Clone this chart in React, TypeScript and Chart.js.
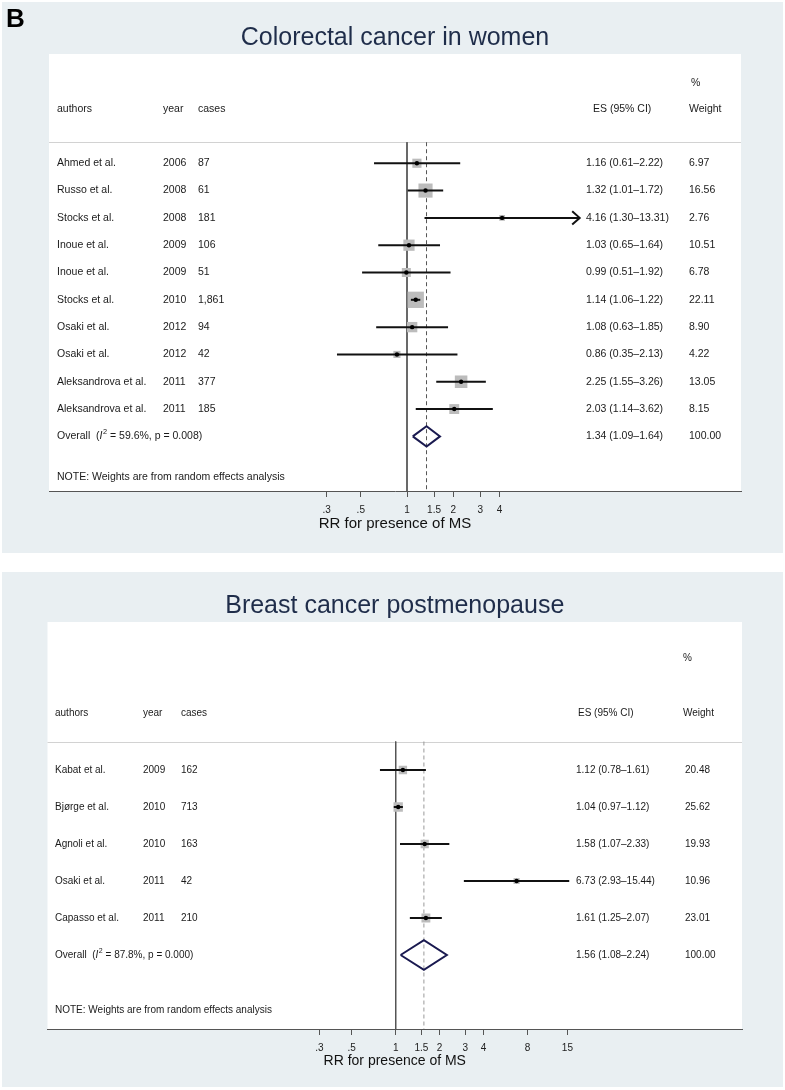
import React, { useEffect, useRef } from "react";
import { Chart, registerables } from "chart.js";
Chart.register(...registerables);

const FONT = "'Liberation Sans', Arial, Helvetica, sans-serif";
const NAVY = "#1f2d4a";

// ---------- Panel 1: Colorectal cancer in women ----------
const crcTitle = "Colorectal cancer in women";
const crcAuthors = ["Ahmed et al.", "Russo et al.", "Stocks et al.", "Inoue et al.", "Inoue et al.", "Stocks et al.", "Osaki et al.", "Osaki et al.", "Aleksandrova et al.", "Aleksandrova et al."];
const crcYears = ["2006", "2008", "2008", "2009", "2009", "2010", "2012", "2012", "2011", "2011"];
const crcCases = ["87", "61", "181", "106", "51", "1,861", "94", "42", "377", "185"];
const crcES = [1.16, 1.32, 4.16, 1.03, 0.99, 1.14, 1.08, 0.86, 2.25, 2.03];
const crcLo = [0.61, 1.01, 1.30, 0.65, 0.51, 1.06, 0.63, 0.35, 1.55, 1.14];
const crcHi = [2.22, 1.72, 13.31, 1.64, 1.92, 1.22, 1.85, 2.13, 3.26, 3.62];
const crcWeight = [6.97, 16.56, 2.76, 10.51, 6.78, 22.11, 8.90, 4.22, 13.05, 8.15];
const crcOverall = [1.34, 1.09, 1.64];
const crcI2 = "59.6%";
const crcP = "0.008";
const crcArrowRows = [2];
const crcTicks = [0.3, 0.5, 1, 1.5, 2, 3, 4];

// ---------- Panel 2: Breast cancer postmenopause ----------
const bcTitle = "Breast cancer postmenopause";
const bcAuthors = ["Kabat et al.", "Bjørge et al.", "Agnoli et al.", "Osaki et al.", "Capasso et al."];
const bcYears = ["2009", "2010", "2010", "2011", "2011"];
const bcCases = ["162", "713", "163", "42", "210"];
const bcES = [1.12, 1.04, 1.58, 6.73, 1.61];
const bcLo = [0.78, 0.97, 1.07, 2.93, 1.25];
const bcHi = [1.61, 1.12, 2.33, 15.44, 2.07];
const bcWeight = [20.48, 25.62, 19.93, 10.96, 23.01];
const bcOverall = [1.56, 1.08, 2.24];
const bcI2 = "87.8%";
const bcP = "0.000";
const bcArrowRows: number[] = [];
const bcTicks = [0.3, 0.5, 1, 1.5, 2, 3, 4, 8, 15];

const axisTitle = "RR for presence of MS";
const noteText = "NOTE: Weights are from random effects analysis";

const panel1 = {
  title: crcTitle, authors: crcAuthors, years: crcYears, cases: crcCases,
  es: crcES, lo: crcLo, hi: crcHi, w: crcWeight, overall: crcOverall,
  i2: crcI2, p: crcP, arrows: crcArrowRows, ticks: crcTicks,
};
const panel2 = {
  title: bcTitle, authors: bcAuthors, years: bcYears, cases: bcCases,
  es: bcES, lo: bcLo, hi: bcHi, w: bcWeight, overall: bcOverall,
  i2: bcI2, p: bcP, arrows: bcArrowRows, ticks: bcTicks,
};

// layout (style only)
const layout1 = {
  top: 2, width: 781, height: 551,
  padL: 47, padR: 42, axisH: 62,
  xMin: 0.00467, xMax: 149.4, yMin: -4, yMax: 12,
  sepY: -0.77, headY: -2.0, pctY: -2.93, noteY: 11.5,
  col: { a: 55, y: 161, c: 196, es: 584, w: 687, esH: 591, wH: 687, pct: 689 },
  fs: 10.5, titleSize: 25, titlePadTop: 21, titlePadBottom: 1,
  axisTitleSize: 15, axisTitlePad: 20, tickPad: 7,
  boxK: 3.47, dH: 0.37, ciW: 2, dashColor: "#555",
};
const layout2 = {
  top: 572, width: 781, height: 515,
  padL: 45.5, padR: 41, axisH: 58,
  xMin: 0.00412, xMax: 235.5, yMin: -4, yMax: 7,
  sepY: -0.77, headY: -1.54, pctY: -3.03, noteY: 6.5,
  col: { a: 53, y: 141, c: 179, es: 574, w: 683, esH: 576, wH: 681, pct: 681 },
  fs: 10, titleSize: 25, titlePadTop: 19, titlePadBottom: 1,
  axisTitleSize: 14, axisTitlePad: 17, tickPad: 7,
  boxK: 1.85, dH: 0.4, ciW: 2, dashColor: "#999",
};

const fmtTick = (v: number) => (v < 1 ? String(v).replace(/^0/, "") : String(v));
const fmtCI = (e: number, l: number, h: number) => `${e.toFixed(2)} (${l.toFixed(2)}\u2013${h.toFixed(2)})`;

function ForestPanel({ p, L }: { p: any; L: any }) {
  const ref = useRef<HTMLCanvasElement>(null);
  useEffect(() => {
    const n = p.es.length;
    const [oes, olo, ohi] = p.overall;
    const datasets: any[] = [];
    datasets.push({
      data: p.es.map((v: number, i: number) => ({ x: v, y: i })),
      pointStyle: "circle", pointRadius: 2.2, backgroundColor: "#000", borderWidth: 0, order: 0,
    });
    datasets.push({
      data: [
        { x: olo, y: n }, { x: oes, y: n - L.dH }, { x: ohi, y: n }, { x: oes, y: n + L.dH }, { x: olo, y: n },
      ],
      showLine: true, borderColor: "#1a1a50", borderWidth: 2, pointRadius: 0, fill: false, tension: 0,
      borderJoinStyle: "miter", order: 1,
    });
    p.es.forEach((_: number, i: number) => {
      datasets.push({
        data: [{ x: p.lo[i], y: i }, { x: p.hi[i], y: i }],
        showLine: true, borderColor: "#111", borderWidth: L.ciW, pointRadius: 0, order: 2,
      });
    });
    datasets.push({
      data: p.es.map((v: number, i: number) => ({ x: v, y: i })),
      pointStyle: "rect",
      pointRadius: p.w.map((w: number) => (L.boxK * Math.sqrt(w)) / Math.SQRT2),
      backgroundColor: "#bcbcbc", borderWidth: 0, order: 3,
    });
    datasets.push({
      data: [{ x: 1, y: L.sepY }, { x: 1, y: L.yMax }],
      showLine: true, borderColor: "#555", borderWidth: 1, pointRadius: 0, order: 4,
    });
    datasets.push({
      data: [{ x: oes, y: L.sepY }, { x: oes, y: L.yMax }],
      showLine: true, borderColor: L.dashColor, borderWidth: 1, borderDash: [4, 3], pointRadius: 0, order: 4,
    });

    const font = (s: number, style = "") => `${style}${s}px ${FONT}`;
    const textPlugin = {
      id: "forestText",
      beforeDraw(chart: any) {
        const { ctx, chartArea: a } = chart;
        ctx.save();
        ctx.fillStyle = "#fff";
        ctx.fillRect(a.left, a.top, a.right - a.left, a.bottom - a.top);
        const ys = chart.scales.y.getPixelForValue(L.sepY);
        ctx.strokeStyle = "#d2d2d2";
        ctx.lineWidth = 1;
        ctx.beginPath();
        ctx.moveTo(a.left, Math.round(ys) + 0.5);
        ctx.lineTo(a.right, Math.round(ys) + 0.5);
        ctx.stroke();
        ctx.restore();
      },
      afterDatasetsDraw(chart: any) {
        const { ctx } = chart;
        const yS = chart.scales.y;
        const xS = chart.scales.x;
        ctx.save();
        ctx.fillStyle = "#1a1a1a";
        ctx.textBaseline = "middle";
        ctx.textAlign = "left";
        ctx.font = font(L.fs);
        const C = L.col;
        const hy = yS.getPixelForValue(L.headY);
        ctx.fillText("%", C.pct, yS.getPixelForValue(L.pctY));
        ctx.fillText("authors", C.a, hy);
        ctx.fillText("year", C.y, hy);
        ctx.fillText("cases", C.c, hy);
        ctx.fillText("ES (95% CI)", C.esH, hy);
        ctx.fillText("Weight", C.wH, hy);
        for (let i = 0; i < n; i++) {
          const y = yS.getPixelForValue(i);
          ctx.fillText(p.authors[i], C.a, y);
          ctx.fillText(p.years[i], C.y, y);
          ctx.fillText(p.cases[i], C.c, y);
          ctx.fillText(fmtCI(p.es[i], p.lo[i], p.hi[i]), C.es, y);
          ctx.fillText(p.w[i].toFixed(2), C.w, y);
        }
        // overall row
        const oy = yS.getPixelForValue(n);
        let x = C.a;
        ctx.font = font(L.fs);
        ctx.fillText("Overall  (", x, oy);
        x += ctx.measureText("Overall  (").width;
        ctx.font = font(L.fs, "italic ");
        ctx.fillText("I", x, oy);
        x += ctx.measureText("I").width + 0.5;
        ctx.font = font(L.fs * 0.7);
        ctx.fillText("2", x, oy - 4);
        x += ctx.measureText("2").width;
        ctx.font = font(L.fs);
        ctx.fillText(` = ${p.i2}, p = ${p.p})`, x, oy);
        ctx.fillText(fmtCI(oes, olo, ohi), C.es, oy);
        ctx.fillText((100).toFixed(2), C.w, oy);
        ctx.fillText(noteText, C.a, yS.getPixelForValue(L.noteY));
        // arrow heads for clipped CIs
        ctx.strokeStyle = "#111";
        ctx.lineWidth = 2;
        p.arrows.forEach((r: number) => {
          const px = xS.getPixelForValue(p.hi[r]);
          const py = yS.getPixelForValue(r);
          ctx.beginPath();
          ctx.moveTo(px - 7.5, py - 6.7);
          ctx.lineTo(px, py);
          ctx.lineTo(px - 7.5, py + 6.7);
          ctx.stroke();
        });
        ctx.restore();
      },
    };

    const chart = new Chart(ref.current!, {
      type: "scatter",
      data: { datasets },
      options: {
        animation: false,
        responsive: false,
        maintainAspectRatio: false,
        devicePixelRatio: 1,
        events: [],
        layout: { padding: { left: L.padL, right: L.padR, top: 0, bottom: 0 } },
        plugins: {
          legend: { display: false },
          tooltip: { enabled: false },
          title: {
            display: true, text: p.title, color: NAVY,
            font: { family: FONT, size: L.titleSize, weight: "normal" },
            padding: { top: L.titlePadTop, bottom: L.titlePadBottom },
          },
        },
        scales: {
          x: {
            type: "logarithmic", position: "bottom", min: L.xMin, max: L.xMax,
            afterBuildTicks: (s: any) => { s.ticks = p.ticks.map((v: number) => ({ value: v })); },
            afterFit: (s: any) => { s.height = L.axisH; },
            border: { display: true, color: "#555", width: 1 },
            grid: { drawOnChartArea: false, drawTicks: true, tickLength: 6, color: "#555", lineWidth: 1 },
            ticks: {
              autoSkip: false, maxRotation: 0, minRotation: 0, padding: L.tickPad,
              color: "#222", font: { family: FONT, size: 10 },
              callback: (v: any) => fmtTick(Number(v)),
            },
            title: {
              display: true, text: axisTitle, color: "#111",
              font: { family: FONT, size: L.axisTitleSize },
              padding: { top: 0, bottom: L.axisTitlePad },
            },
          },
          y: { type: "linear", min: L.yMin, max: L.yMax, reverse: true, display: false },
        },
      } as any,
      plugins: [textPlugin],
    });
    return () => chart.destroy();
  }, []);
  return (
    <div style={{ position: "absolute", left: 2, top: L.top, width: L.width, height: L.height, background: "#e9eff2" }}>
      <canvas ref={ref} width={L.width} height={L.height} style={{ display: "block" }} />
    </div>
  );
}

export default function App() {
  useEffect(() => {
    document.body.style.margin = "0";
  }, []);
  return (
    <div style={{ position: "relative", width: 785, height: 1090, background: "#fff", overflow: "hidden" }}>
      <ForestPanel p={panel1} L={layout1} />
      <ForestPanel p={panel2} L={layout2} />
      <div style={{ position: "absolute", left: 6, top: 5, font: `bold 26px ${FONT}`, lineHeight: "26px", color: "#000" }}>B</div>
    </div>
  );
}
